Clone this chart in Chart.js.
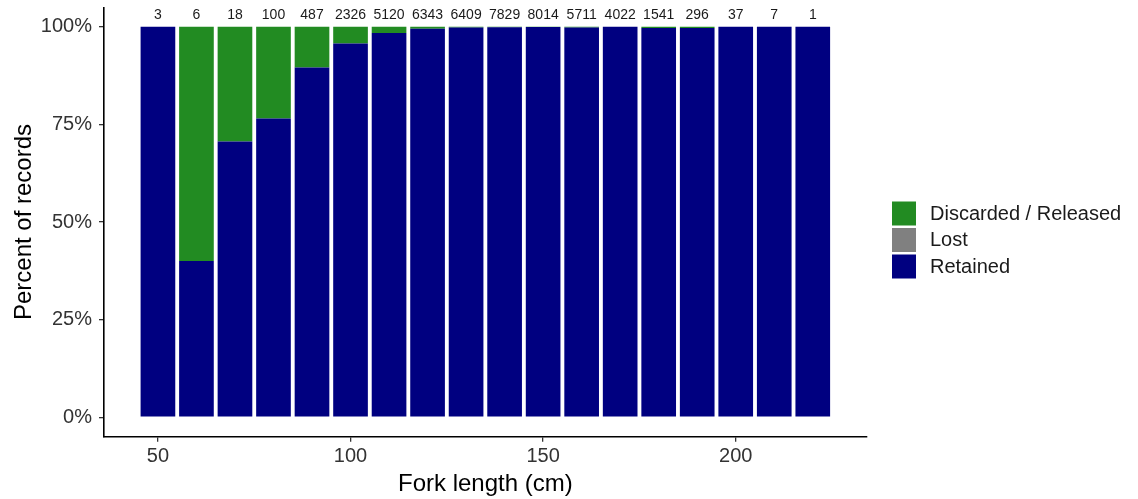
<!DOCTYPE html>
<html>
<head>
<meta charset="utf-8">
<script src="https://cdn.jsdelivr.net/npm/chart.js@4.4.1/dist/chart.umd.min.js"></script>
<style>
  html, body { margin: 0; padding: 0; background: #ffffff; }
  #wrap { width: 1138px; height: 499px; }
</style>
</head>
<body>
<div id="wrap"><canvas id="c" width="1138" height="499"></canvas></div>
<script>
// Fork length bins (cm)
const forkLengths = [50, 60, 70, 80, 90, 100, 110, 120, 130, 140, 150, 160, 170, 180, 190, 200, 210, 220];
// Number of records per bin
const recordCounts = [3, 6, 18, 100, 487, 2326, 5120, 6343, 6409, 7829, 8014, 5711, 4022, 1541, 296, 37, 7, 1];
// Percent of records by fate
const retainedPct  = [100, 40, 70.6, 76.5, 89.6, 95.7, 98.4, 99.5, 99.8, 99.9, 99.95, 99.8, 100, 99.7, 99.7, 100, 100, 100];
const lostPct      = [0, 0, 0, 0, 0, 0, 0, 0, 0, 0, 0, 0, 0, 0, 0, 0, 0, 0];
const discardedPct = [0, 60, 29.4, 23.5, 10.4, 4.3, 1.6, 0.5, 0.2, 0.1, 0.05, 0.2, 0, 0.3, 0.3, 0, 0, 0];
// Axis ticks
const xTicks = [50, 100, 150, 200];
const yTicks = [0, 25, 50, 75, 100];

const seriesNames = ['Retained', 'Lost', 'Discarded / Released'];
const seriesColors = ['#000080', '#808080', '#228B22'];
const legendOrder = [2, 1, 0];

const toPoints = arr => forkLengths.map((x, i) => ({ x: x, y: arr[i] }));

const countLabels = {
  id: 'countLabels',
  afterDatasetsDraw(chart) {
    const ctx = chart.ctx;
    const xs = chart.scales.x, ys = chart.scales.y;
    ctx.save();
    ctx.font = '14px "Liberation Sans", Arial, sans-serif';
    ctx.fillStyle = '#1a1a1a';
    ctx.textAlign = 'center';
    ctx.textBaseline = 'middle';
    forkLengths.forEach((x, i) => {
      ctx.fillText(String(recordCounts[i]), xs.getPixelForValue(x), ys.getPixelForValue(102.9));
    });
    ctx.restore();
  }
};

const customLegend = {
  id: 'customLegend',
  afterDraw(chart) {
    const ctx = chart.ctx;
    ctx.save();
    ctx.font = '20px "Liberation Sans", Arial, sans-serif';
    ctx.textAlign = 'left';
    ctx.textBaseline = 'middle';
    const x0 = 892, y0 = 201.5, size = 24, step = 26.5;
    legendOrder.forEach((di, k) => {
      const y = y0 + k * step;
      ctx.fillStyle = seriesColors[di];
      ctx.fillRect(x0, y, size, size);
      ctx.fillStyle = '#1a1a1a';
      ctx.fillText(seriesNames[di], 930, y + size / 2 + 0.5);
    });
    ctx.restore();
  }
};

new Chart(document.getElementById('c'), {
  type: 'bar',
  data: {
    datasets: [0, 1, 2].map(i => ({
      label: seriesNames[i],
      data: toPoints([retainedPct, lostPct, discardedPct][i]),
      backgroundColor: seriesColors[i],
      borderWidth: 0,
      categoryPercentage: 0.9,
      barPercentage: 1.0
    }))
  },
  options: {
    responsive: false,
    animation: false,
    events: [],
    layout: { padding: { top: 7.3, right: 271.3, bottom: 0, left: 0 } },
    plugins: { legend: { display: false }, tooltip: { enabled: false } },
    scales: {
      x: {
        type: 'linear',
        stacked: true,
        offset: false,
        min: 36, max: 234,
        afterBuildTicks: s => { s.ticks = xTicks.map(v => ({ value: v })); },
        afterFit: s => { s.height = 62.3; s.paddingLeft = 0; s.paddingRight = 0; },
        grid: { display: true, offset: false, drawOnChartArea: false, drawTicks: true, tickLength: 5, color: '#333333', lineWidth: 1.3 },
        border: { display: true, color: '#000000', width: 1.6 },
        ticks: { font: { size: 20, family: '"Liberation Sans", Arial, sans-serif' }, color: '#333333', padding: 3, maxRotation: 0 },
        title: { display: true, text: 'Fork length (cm)', font: { size: 24, family: '"Liberation Sans", Arial, sans-serif' }, color: '#000000', padding: { top: 0, bottom: 0 } }
      },
      y: {
        type: 'linear',
        stacked: true,
        min: -5, max: 105,
        afterBuildTicks: s => { s.ticks = yTicks.map(v => ({ value: v })); },
        afterFit: s => { s.width = 104; s.paddingTop = 0; s.paddingBottom = 0; },
        grid: { display: true, drawOnChartArea: false, drawTicks: true, tickLength: 5, color: '#333333', lineWidth: 1.3 },
        border: { display: true, color: '#000000', width: 1.6 },
        ticks: { font: { size: 20, family: '"Liberation Sans", Arial, sans-serif' }, color: '#333333', padding: 7, callback: v => v + '%' },
        title: { display: true, text: 'Percent of records', font: { size: 24, family: '"Liberation Sans", Arial, sans-serif' }, color: '#000000', padding: { top: 10, bottom: 0 } }
      }
    }
  },
  plugins: [countLabels, customLegend]
});
</script>
</body>
</html>
